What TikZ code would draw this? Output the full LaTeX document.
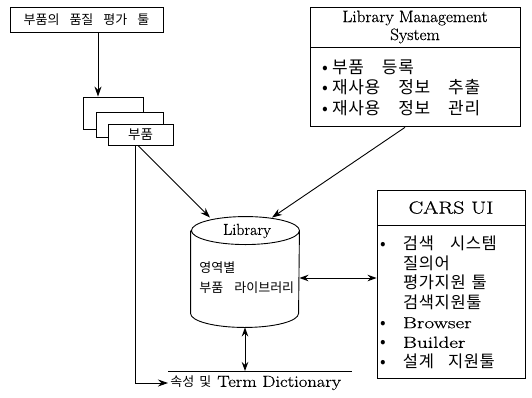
\documentclass[tikz,border=0pt]{standalone}
\usepackage{fontspec}
\setmainfont{Latin Modern Roman}[FakeBold=0.6]
\newfontfamily\kr{Noto Sans CJK KR}[LetterSpace=4]
\newfontfamily\krs{Noto Sans CJK KR}
\usetikzlibrary{arrows.meta,calc}
\newcommand\bulw[1]{\makebox[#1][l]{\textbullet}}
\newcommand\ks[1]{\hspace*{#1}}
\newcommand\sx[2]{\scalebox{#1}[1]{#2}}
\begin{document}
\begin{tikzpicture}[x=1pt,y=-1pt, line width=0.9pt,
  box/.style={draw, rectangle, inner sep=0pt},
  arr/.style={-{Stealth[length=10pt,width=7pt]}},
  arrb/.style={{Stealth[length=9pt,width=6.5pt]}-{Stealth[length=9pt,width=6.5pt]}}]
\useasboundingbox[fill=white] (0,0) rectangle (532,397);

% quality tool
\node[box, minimum width=153pt, minimum height=25pt, font=\krs\fontsize{13}{14}\selectfont] (qtool) at (86.5,19.5)
  {부품의\ks{10pt}품질\ks{10pt}평가\ks{10pt}툴};

% stacked parts
\node[box, minimum width=60pt, minimum height=32pt, fill=white] (p1) at (113,113) {};
\node[box, minimum width=67pt, minimum height=25pt, fill=white] (p2) at (129.5,124.5) {};
\node[box, minimum width=65pt, minimum height=21pt, fill=white, font=\krs\fontsize{13.5}{15}\selectfont] (part) at (140.5,134.5) {부품};

\draw[arr] ([xshift=11.5pt]qtool.south) -- ([xshift=11.5pt]qtool.south |- p1.north);

% Library Management System
\node[box, minimum width=210pt, minimum height=40pt, align=center, font=\fontsize{16.5}{18}\selectfont] (lmsT) at (415,27)
  {\sx{1.04}{Library Management}\\\sx{1.04}{System}};
\node[box, anchor=north, minimum width=210pt, minimum height=79pt, text width=194pt, inner xsep=8pt, align=left,
  font=\kr\fontsize{17}{20.5}\selectfont] (lmsB) at (lmsT.south)
  {\ks{4pt}\bulw{10pt}부품\ks{18pt}등록\\\ks{4pt}\bulw{10pt}재사용\ks{18pt}정보\ks{18pt}추출\\\ks{4pt}\bulw{10pt}재사용\ks{18pt}정보\ks{18pt}관리};

% Library cylinder
\node[minimum width=108pt, minimum height=110pt, inner sep=0pt] (lib) at (245,272) {};
\draw ([yshift=-14pt]lib.north west) -- ([yshift=14pt]lib.south west)
  arc[start angle=180, end angle=360, x radius=54pt, y radius=14pt]
  -- ([yshift=-14pt]lib.north east)
  arc[start angle=0, end angle=360, x radius=54pt, y radius=14pt];
\node[font=\fontsize{16}{18}\selectfont] (libname) at (247,231) {Library};
\node[anchor=west, align=left, inner sep=0pt, font=\krs\fontsize{13}{20}\selectfont] (libtxt) at (199,278)
  {영역별\\부품\ks{11pt}라이브러리};

% arrows into library
\draw[arr] ([xshift=-2.5pt]part.south) -- ([xshift=-35pt,yshift=-1pt]lib.north);
\draw[arr] ([xshift=-10pt]lmsB.south) -- ([xshift=27pt,yshift=-1pt]lib.north);

% CARS UI
\node[box, minimum width=148pt, minimum height=35pt, font=\fontsize{17.5}{20}\selectfont] (carsT) at (451,207.5) {\sx{1.25}{CARS UI}};
\node[box, anchor=north, minimum width=148pt, minimum height=153pt, text width=142pt, inner xsep=3pt, align=left,
  font=\kr\fontsize{16.5}{19.6}\selectfont] (carsB) at (carsT.south)
  {\bulw{23pt}검색\ks{16pt}시스템\\
   \hspace*{23pt}질의어\\
   \hspace*{23pt}평가지원\ks{6pt}툴\\
   \hspace*{23pt}검색지원툴\\
   \bulw{23pt}{\rmfamily\fontsize{16}{19.6}\selectfont\sx{1.33}{Browser}}\\
   \bulw{23pt}{\rmfamily\fontsize{16}{19.6}\selectfont\sx{1.33}{Builder}}\\
   \bulw{23pt}설계\ks{14pt}지원툴};

\draw[arrb] ([yshift=-6pt]lib.east) -- ([yshift=-6pt]lib.east -| carsB.west);

% dictionary
\coordinate (dl) at (168,371);
\coordinate (dr) at (352,371);
\draw (dl) -- (dr);
\node[anchor=west, inner xsep=2pt, font=\fontsize{16}{17}\selectfont] (dict) at (168,383)
  {{\krs\fontsize{13}{14}\selectfont 속성\ks{5pt}및}\ks{6pt}\sx{1.16}{Term Dictionary}};
\draw[arrb] (lib.south) -- (lib.south |- dl);
\draw[arr] ([xshift=-5.5pt]part.south) |- (dict.west);
\end{tikzpicture}
\end{document}
